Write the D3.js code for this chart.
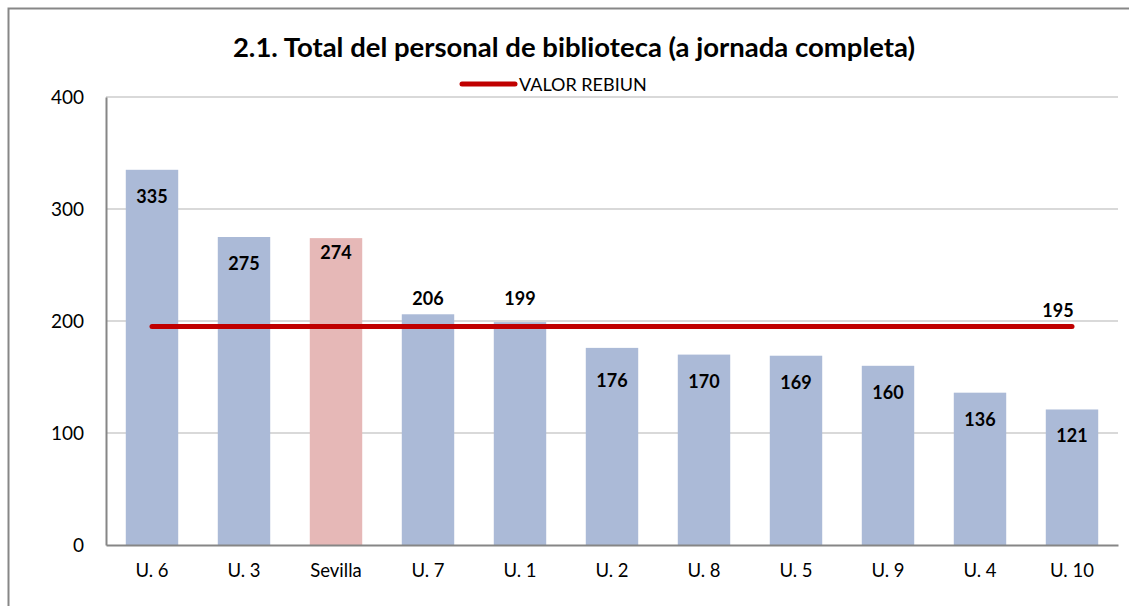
<!DOCTYPE html>
<html>
<head>
<meta charset="utf-8">
<script src="https://cdn.jsdelivr.net/npm/d3@7"></script>
<style>
  body { margin: 0; background: #fff; }
  svg { display: block; font-family: Lato, "Open Sans", sans-serif; }
</style>
</head>
<body>
<div id="chart"></div>
<script>
// data
var categories = ["U. 6", "U. 3", "Sevilla", "U. 7", "U. 1", "U. 2", "U. 8", "U. 5", "U. 9", "U. 4", "U. 10"];
var values = [335, 275, 274, 206, 199, 176, 170, 169, 160, 136, 121];
var rebiun = 195;
var yTicks = [0, 100, 200, 300, 400];
var highlight = "Sevilla";

var W = 1129, H = 606;
var margin = {left: 106, right: 11, top: 97, bottom: 61};

var svg = d3.select("#chart").append("svg")
	.attr("width", W).attr("height", H);

// outer frame (right/bottom edges fall outside the picture)
svg.append("rect").attr("x", 8.5).attr("y", 8.5)
	.attr("width", W + 10).attr("height", H + 10)
	.attr("fill", "none").attr("stroke", "#878787").attr("stroke-width", 2);

var x = d3.scaleBand().domain(categories)
	.range([margin.left, W - margin.right]).paddingInner(0.43).paddingOuter(0.215);
var y = d3.scaleLinear().domain([0, 400]).range([H - margin.bottom, margin.top]);

// gridlines
svg.append("g").selectAll("line").data(yTicks.filter(function(d) { return d > 0; }))
	.enter().append("line")
	.attr("x1", margin.left).attr("x2", W - margin.right)
	.attr("y1", function(d) { return y(d); }).attr("y2", function(d) { return y(d); })
	.attr("stroke", "#d9d9d9").attr("stroke-width", 2);

// y axis
var yAxis = svg.append("g").attr("transform", "translate(" + margin.left + ",0)")
	.call(d3.axisLeft(y).tickValues(yTicks).tickSize(0).tickPadding(22));
yAxis.select(".domain").attr("stroke", "#868686").attr("stroke-width", 2);
yAxis.selectAll("text").attr("font-size", "19px").attr("fill", "#000")
	.attr("font-family", "Lato, sans-serif");

// bars
svg.append("g").selectAll("rect").data(categories).enter().append("rect")
	.attr("x", function(d) { return x(d); })
	.attr("width", x.bandwidth())
	.attr("y", function(d, i) { return y(values[i]); })
	.attr("height", function(d, i) { return y(0) - y(values[i]); })
	.attr("fill", function(d) { return d === highlight ? "#e6b8b7" : "#abbad7"; });

// x axis
var xAxis = svg.append("g").attr("transform", "translate(0," + y(0) + ")")
	.call(d3.axisBottom(x).tickSize(0).tickPadding(19));
xAxis.select(".domain").attr("stroke", "#868686").attr("stroke-width", 2);
xAxis.selectAll("text").attr("font-size", "18.5px").attr("fill", "#000")
	.attr("font-family", "Lato, sans-serif");

// value labels; a few were nudged by hand in the original
var nudge = {"Sevilla": -12, "U. 7": -42, "U. 1": -50, "U. 2": 6};
svg.append("g").selectAll("text").data(categories).enter().append("text")
	.attr("x", function(d) { return x(d) + x.bandwidth() / 2; })
	.attr("y", function(d, i) { return y(values[i]) + 33 + (nudge[d] || 0); })
	.attr("text-anchor", "middle")
	.attr("font-size", "18px").attr("font-weight", "bold")
	.text(function(d, i) { return values[i]; });

// REBIUN reference line
var first = categories[0], last = categories[categories.length - 1];
var x1 = x(first) + x.bandwidth() / 2, x2 = x(last) + x.bandwidth() / 2;
svg.append("line")
	.attr("x1", x1).attr("x2", x2).attr("y1", y(rebiun)).attr("y2", y(rebiun))
	.attr("stroke", "#c00000").attr("stroke-width", 5).attr("stroke-linecap", "round");
svg.append("text").attr("x", x2 - 14).attr("y", y(rebiun) - 10)
	.attr("text-anchor", "middle").attr("font-size", "18px").attr("font-weight", "bold")
	.text(rebiun);

// title
svg.append("text").attr("x", 574).attr("y", 57).attr("text-anchor", "middle")
	.attr("font-size", "27.5px").attr("font-weight", "bold")
	.text("2.1. Total del personal de biblioteca (a jornada completa)");

// legend
svg.append("line").attr("x1", 462).attr("x2", 515).attr("y1", 84).attr("y2", 84)
	.attr("stroke", "#c00000").attr("stroke-width", 5).attr("stroke-linecap", "round");
svg.append("text").attr("x", 519).attr("y", 91).attr("font-size", "18px")
	.text("VALOR REBIUN");
</script>
</body>
</html>
